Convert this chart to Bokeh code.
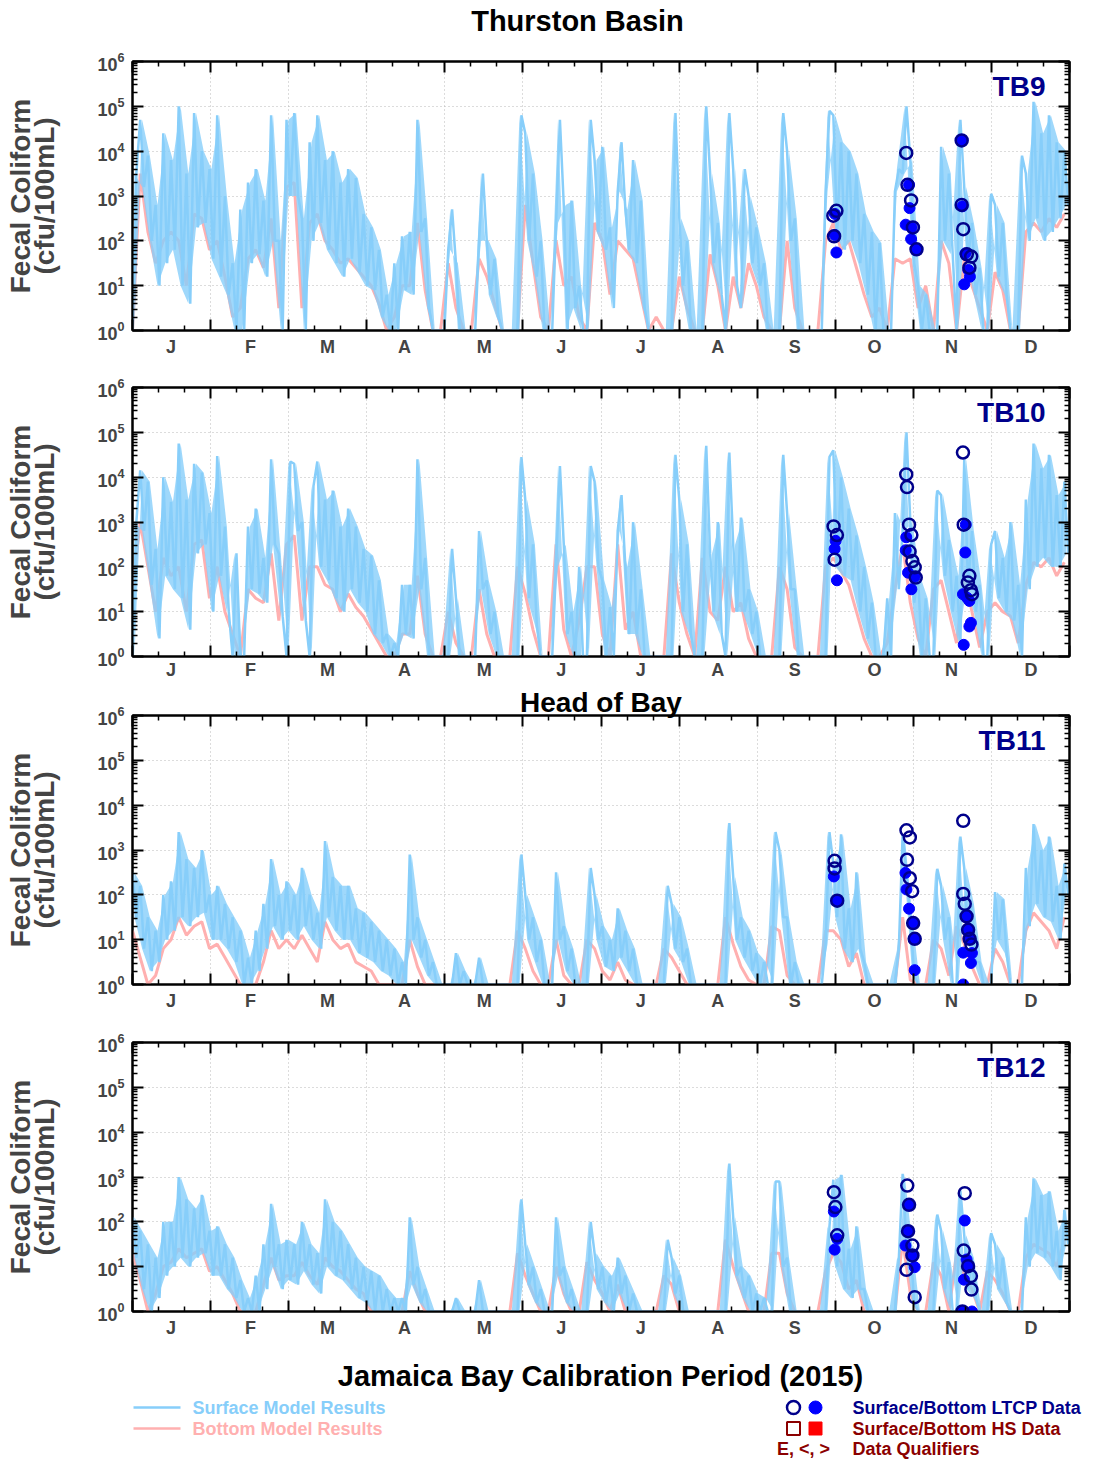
import numpy as np
from bokeh.plotting import figure
from bokeh.layouts import column
from bokeh.models import (Range1d, LogScale, LinearAxis, LogAxis, FixedTicker,
                          LogTickFormatter, BasicTickFormatter, Grid, Label)
from bokeh.embed import file_html
from bokeh.resources import INLINE
from bokeh.core.properties import value

# ---------------------------------------------------------------- data
# Model results as log10(cfu/100mL). Surface samples every 1.5 days
# (alternating tidal high / low readings), bottom samples every 3 days.
tb9_surface = [
    0.0, 3.5, 4.7, 3.2, 3.9, 2.0, 2.8, 1.0, 4.4, 1.5, 3.8, 1.8, 5.0, 1.0, 3.5, 0.6, 4.85, 2.3, 4.0, 2.4,
    3.6, 1.6, 4.8, 1.2, 3.0, 0.8, 1.5, 0.0, 2.7, 0.0, 3.3, 1.5, 3.6, 1.7, 2.9, 1.2, 4.8, 2.0, 2.0, 0.0,
    4.7, 3.0, 4.85, 3.0, 2.5, 0.0, 4.2, 2.0, 4.8, 2.4, 3.8, 1.8, 4.0, 1.5, 3.3, 1.2, 3.6, 1.6, 3.4, 1.3,
    2.6, 1.0, 2.3, 0.9, 1.8, 0.3, 0.8, 0.0, 1.5, 0.0, 2.1, 0.9, 2.2, 0.8, 4.7, 2.2, 2.5, 0.5, 0.0, 0.0,
    0.0, 0.0, 1.8, 2.7, 1.5, 0.0, 0.0, 0.0, 0.0, 0.0, 2.0, 3.5, 2.0, 0.8, 1.6, 0.3, 0.0, 0.0, 0.0, 0.0,
    0.0, 4.8, 4.4, 2.0, 3.5, 1.2, 2.0, 0.0, 0.0, 0.0, 2.4, 4.7, 2.8, 0.0, 2.9, 0.5, 1.0, 0.0, 0.0, 4.7,
    3.8, 2.2, 4.1, 1.8, 2.3, 0.5, 3.1, 4.2, 2.7, 1.8, 3.8, 1.5, 2.9, 0.5, 0.0, 0.0, 0.0, 0.0, 0.0, 0.0,
    0.0, 4.85, 2.5, 1.0, 2.0, 0.0, 0.0, 0.0, 0.0, 5.0, 3.5, 1.5, 2.4, 0.8, 0.0, 4.85, 3.6, 1.0, 0.5, 3.6,
    3.0, 1.5, 2.3, 1.0, 1.5, 0.0, 0.0, 0.0, 0.0, 4.85, 4.0, 2.0, 2.5, 0.0, 0.0, 0.0, 0.0, 0.0, 0.0, 0.0,
    3.1, 4.9, 4.8, 2.2, 4.2, 1.8, 4.0, 2.0, 3.5, 1.5, 2.6, 0.8, 2.2, 0.0, 1.95, 0.0, 0.0, 0.0, 3.1, 3.6,
    3.5, 5.0, 3.8, 1.5, 1.0, 0.0, 0.8, 0.0, 0.0, 0.0, 4.1, 2.0, 3.5, 1.7, 0.0, 4.7, 3.2, 1.6, 2.4, 0.8,
    1.4, 0.0, 0.0, 3.05, 2.8, 1.2, 2.4, 0.8, 0.0, 0.0, 0.0, 3.9, 3.5, 2.0, 5.1, 2.5, 4.4, 2.0, 4.8, 2.2,
    4.2, 2.5, 4.0, 2.8]
tb9_bottom = [
    0.0, 3.5, 2.2, 1.5, 2.0, 2.2, 2.0, 1.0, 2.6, 2.5, 1.8, 2.0, 1.2, 0.3, 0.5, 1.6, 1.8, 1.4, 2.5, 0.5,
    3.2, 3.3, 0.5, 2.4, 2.6, 2.0, 1.8, 1.5, 1.6, 1.4, 1.2, 1.0, 0.6, 0.0, 0.3, 1.0, 1.0, 2.4, 0.9, 0.0,
    0.0, 1.5, 0.5, 0.0, 0.0, 1.6, 1.2, 0.6, 0.0, 0.0, 0.0, 2.8, 1.5, 0.3, 0.0, 2.0, 1.0, 1.2, 0.3, 0.0,
    2.4, 2.0, 0.8, 2.0, 1.8, 1.6, 0.8, 0.0, 0.3, 0.0, 0.0, 1.2, 0.5, 0.0, 0.0, 1.7, 1.0, 0.0, 1.2, 0.5,
    1.5, 1.0, 0.3, 0.0, 0.0, 2.0, 0.5, 0.0, 0.0, 0.0, 2.0, 2.4, 1.8, 2.0, 1.4, 0.8, 0.3, 0.5, 0.0, 1.6,
    1.5, 1.6, 0.5, 1.0, 0.0, 2.0, 1.5, 0.0, 1.6, 1.0, 0.5, 0.0, 1.3, 0.9, 0.0, 0.0, 2.2, 2.4, 2.2, 2.5,
    2.3, 2.6]
tb9_obs_surface_day = [273.0, 274.2, 273.3, 301.4, 301.9, 303.3, 304.0, 305.4, 323.0, 323.0, 323.6, 325.0, 326.7, 326.0]
tb9_obs_surface_log = [2.56, 2.67, 2.10, 3.96, 3.25, 2.90, 2.30, 1.81, 4.24, 2.80, 2.26, 1.70, 1.65, 1.40]
tb9_obs_bottom_day = [273.6, 273.6, 274.2, 302.5, 302.7, 301.2, 303.5, 303.3, 305.4, 323.0, 323.3, 324.5, 325.6, 326.2, 324.0]
tb9_obs_bottom_log = [2.60, 2.13, 1.74, 3.25, 2.73, 2.36, 2.30, 2.04, 1.81, 4.24, 2.77, 1.72, 1.35, 1.20, 1.03]

tb10_surface = [
    0.0, 3.0, 4.15, 2.8, 3.9, 1.6, 2.4, 0.4, 4.0, 1.8, 3.45, 1.5, 4.75, 1.3, 3.5, 0.6, 4.3, 2.3, 4.1, 2.5,
    3.2, 1.0, 4.47, 1.8, 2.9, 1.0, 0.0, 2.3, 0.0, 0.0, 2.9, 1.5, 3.3, 1.4, 2.2, 1.2, 4.4, 2.5, 2.3, 0.9,
    0.0, 4.35, 4.3, 2.8, 3.0, 0.8, 0.0, 3.8, 4.35, 2.0, 3.5, 1.7, 3.7, 1.3, 2.9, 1.0, 3.3, 1.5, 2.9, 1.2,
    2.4, 1.0, 2.25, 0.5, 1.7, 0.3, 0.5, 0.0, 0.3, 0.0, 1.6, 0.5, 1.6, 0.4, 4.4, 1.5, 2.2, 0.0, 0.0, 0.0,
    0.0, 0.0, 0.0, 2.4, 1.3, 0.0, 0.0, 0.0, 0.0, 0.0, 2.8, 1.5, 1.7, 0.5, 1.0, 0.0, 0.0, 0.0, 0.0, 0.0,
    0.0, 4.45, 3.5, 1.3, 2.5, 0.7, 0.0, 0.0, 0.0, 0.0, 2.0, 4.25, 2.5, 0.5, 1.0, 0.0, 2.0, 0.0, 0.0, 4.25,
    3.9, 2.0, 1.7, 0.0, 1.1, 0.0, 2.8, 3.6, 2.0, 0.5, 3.0, 0.5, 1.5, 0.0, 0.0, 0.0, 0.0, 0.0, 0.0, 0.0,
    0.0, 4.5, 3.5, 1.0, 2.5, 0.5, 0.0, 0.0, 0.0, 4.7, 2.3, 1.0, 3.0, 0.5, 0.0, 4.55, 2.5, 1.0, 3.1, 1.0,
    1.5, 0.5, 1.0, 0.0, 0.0, 0.0, 0.0, 0.0, 0.0, 4.5, 3.2, 1.5, 1.5, 0.0, 0.0, 0.0, 0.0, 0.0, 0.0, 0.0,
    0.0, 4.45, 4.6, 2.0, 4.0, 1.8, 3.3, 1.7, 2.7, 1.0, 2.0, 0.4, 1.2, 0.0, 0.0, 0.0, 1.3, 0.0, 3.2, 1.5,
    2.8, 5.0, 3.0, 1.2, 1.8, 0.0, 1.3, 0.0, 0.0, 3.7, 3.6, 1.8, 2.6, 1.0, 1.8, 0.3, 4.4, 1.5, 2.8, 1.0,
    1.6, 0.0, 0.0, 2.5, 2.8, 1.3, 2.2, 1.0, 3.0, 0.8, 1.6, 0.0, 3.5, 1.5, 4.75, 2.0, 4.2, 2.2, 4.5, 2.0,
    3.6, 2.0, 3.9, 2.3]
tb10_bottom = [
    1.5, 3.0, 2.0, 1.0, 2.2, 1.8, 2.0, 1.0, 2.5, 2.6, 1.3, 2.0, 1.0, 0.5, 0.0, 1.5, 1.3, 1.2, 2.3, 0.8,
    2.5, 2.7, 0.8, 2.0, 2.0, 1.6, 1.5, 1.0, 1.4, 1.1, 0.9, 0.6, 0.3, 0.0, 0.0, 0.5, 0.5, 1.8, 0.5, 0.0,
    0.0, 1.0, 0.3, 0.0, 0.0, 1.5, 0.5, 0.0, 0.0, 0.0, 2.0, 1.4, 0.6, 0.0, 0.0, 2.5, 0.6, 0.0, 0.8, 2.0,
    2.0, 0.5, 0.0, 2.5, 0.6, 1.0, 0.0, 0.0, 0.0, 0.0, 2.3, 1.2, 0.5, 0.0, 2.2, 1.0, 0.8, 2.0, 1.0, 1.2,
    0.4, 0.0, 0.0, 0.0, 2.0, 1.5, 0.2, 0.0, 0.0, 0.0, 2.0, 2.2, 1.9, 1.6, 1.0, 0.4, 0.0, 0.0, 0.3, 1.5,
    2.5, 1.2, 0.4, 0.0, 1.5, 1.7, 1.0, 0.3, 1.8, 1.0, 0.2, 1.0, 1.2, 1.0, 0.9, 0.3, 1.6, 2.1, 2.0, 2.2,
    1.8, 2.1]
tb10_obs_surface_day = [273.1, 274.4, 273.5, 301.4, 301.7, 302.5, 303.4, 302.7, 303.8, 304.7, 305.1, 323.5, 323.8, 326.0, 325.4, 326.6, 327.0]
tb10_obs_surface_log = [2.90, 2.71, 2.16, 4.06, 3.78, 2.94, 2.71, 2.34, 2.13, 1.99, 1.76, 4.55, 2.94, 1.80, 1.65, 1.48, 1.39]
tb10_obs_bottom_day = [273.9, 273.5, 274.4, 301.4, 301.2, 302.1, 304.7, 303.4, 324.6, 324.4, 323.5, 325.1, 326.0, 326.6, 326.0, 323.8]
tb10_obs_bottom_log = [2.58, 2.40, 1.70, 2.66, 2.37, 1.87, 1.78, 1.50, 2.94, 2.32, 1.39, 1.31, 1.24, 0.75, 0.67, 0.26]

tb11_surface = [
    2.5, 1.5, 2.2, 0.8, 1.5, 0.3, 1.2, 0.5, 2.0, 1.0, 2.3, 1.2, 3.4, 1.5, 2.8, 1.3, 2.6, 1.5, 3.0, 1.6,
    2.0, 1.0, 2.2, 1.0, 1.8, 0.8, 1.5, 0.5, 1.2, 0.0, 0.6, 0.0, 1.2, 0.3, 1.8, 0.8, 2.8, 1.3, 2.0, 1.0,
    2.3, 1.2, 2.0, 1.0, 2.6, 1.3, 2.0, 1.0, 1.6, 0.8, 3.2, 1.5, 2.4, 1.2, 2.2, 1.0, 2.2, 1.0, 1.7, 0.7,
    1.6, 0.6, 1.4, 0.5, 1.2, 0.3, 1.0, 0.2, 0.8, 0.0, 0.5, 0.0, 2.9, 1.0, 1.5, 0.6, 1.0, 0.2, 0.5, 0.0,
    0.0, 0.0, 0.0, 0.0, 0.7, 0.0, 0.3, 0.0, 0.0, 0.0, 0.6, 0.0, 0.0, 0.0, 0.0, 0.0, 0.0, 0.0, 0.0, 0.0,
    0.0, 2.9, 2.0, 1.0, 1.5, 0.5, 1.0, 0.0, 0.0, 0.0, 2.5, 1.0, 1.3, 0.3, 0.8, 0.0, 0.0, 0.0, 0.0, 2.6,
    2.0, 1.0, 1.3, 0.4, 1.0, 0.3, 1.7, 0.6, 1.2, 0.3, 0.8, 0.0, 0.0, 0.0, 0.0, 0.0, 0.0, 0.0, 0.0, 2.2,
    1.8, 0.8, 1.5, 0.5, 0.8, 0.0, 0.0, 0.0, 0.0, 0.0, 0.0, 0.0, 0.0, 0.0, 0.0, 3.6, 2.4, 1.0, 1.5, 0.6,
    1.2, 0.3, 0.7, 0.0, 0.5, 0.0, 0.0, 3.4, 3.0, 1.5, 1.5, 0.0, 0.5, 0.0, 0.0, 0.0, 0.0, 0.0, 0.0, 0.0,
    0.9, 3.4, 2.7, 1.5, 3.35, 0.8, 1.7, 0.5, 2.5, 0.8, 0.5, 0.0, 0.0, 0.0, 0.0, 0.0, 0.0, 0.0, 0.0, 0.76,
    3.35, 2.5, 1.5, 0.2, 0.0, 0.0, 0.0, 0.0, 0.0, 2.58, 2.2, 1.0, 1.5, 0.0, 0.0, 3.3, 2.6, 1.0, 1.8, 0.5,
    0.5, 0.0, 0.0, 0.0, 2.06, 1.0, 1.9, 0.7, 0.0, 0.0, 0.0, 0.0, 2.6, 1.3, 3.58, 1.8, 3.0, 1.5, 3.3, 1.4,
    2.2, 1.0, 2.7, 2.0]
tb11_bottom = [
    1.2, 0.6, 0.0, 0.2, 0.8, 1.0, 1.5, 1.1, 1.3, 1.4, 0.8, 0.9, 0.6, 0.3, 0.0, 0.0, 0.0, 0.5, 1.2, 0.8,
    1.0, 0.8, 1.1, 0.8, 0.5, 1.4, 1.0, 0.8, 0.9, 0.5, 0.4, 0.3, 0.0, 0.0, 0.0, 0.0, 1.0, 0.4, 0.0, 0.0,
    0.0, 0.0, 0.0, 0.0, 0.0, 0.0, 0.0, 0.0, 0.0, 0.0, 1.2, 0.8, 0.3, 0.0, 0.0, 1.0, 0.2, 0.0, 0.0, 1.0,
    0.8, 0.3, 0.1, 0.5, 0.1, 0.0, 0.0, 0.0, 0.0, 0.8, 0.6, 0.3, 0.0, 0.0, 0.0, 0.0, 0.0, 1.5, 0.9, 0.4,
    0.1, 0.0, 0.0, 1.3, 1.2, 0.2, 0.0, 0.0, 0.0, 0.0, 1.2, 1.2, 1.0, 0.4, 0.7, 0.0, 0.0, 0.0, 0.0, 0.0,
    1.5, 0.1, 0.0, 0.0, 1.0, 0.8, 0.2, 1.3, 0.9, 0.4, 0.0, 0.0, 0.8, 0.5, 0.0, 0.0, 1.2, 1.6, 1.4, 1.2,
    0.8, 1.5]
tb11_obs_surface_day = [273.5, 273.5, 274.5, 301.5, 302.8, 301.7, 302.8, 303.7, 304.1, 304.7, 323.6, 323.6, 324.2, 324.9, 325.5, 326.1, 326.8]
tb11_obs_surface_log = [2.76, 2.59, 1.87, 3.44, 3.28, 2.78, 2.37, 2.08, 1.37, 1.02, 3.65, 2.02, 1.80, 1.52, 1.22, 1.02, 0.89]
tb11_obs_bottom_day = [273.2, 274.5, 301.1, 301.5, 302.5, 304.1, 304.7, 304.7, 324.9, 325.5, 326.1, 323.6, 327.0, 326.6, 323.6]
tb11_obs_bottom_log = [2.41, 1.87, 2.49, 2.12, 1.69, 1.37, 1.02, 0.32, 1.52, 1.22, 1.02, 0.71, 0.70, 0.48, 0.00]

tb12_surface = [
    2.1, 1.2, 1.8, 0.5, 1.5, 0.0, 1.2, 0.3, 2.0, 0.8, 2.0, 1.0, 3.0, 1.2, 2.5, 1.0, 2.3, 1.2, 2.6, 1.3,
    1.8, 0.8, 1.9, 0.8, 1.5, 0.5, 1.2, 0.3, 0.7, 0.0, 0.3, 0.0, 0.8, 0.0, 1.5, 0.5, 2.4, 1.0, 1.5, 0.5,
    1.6, 0.7, 1.5, 0.6, 2.0, 0.9, 1.5, 0.6, 1.3, 0.4, 2.5, 1.0, 2.0, 0.8, 1.8, 0.7, 1.5, 0.5, 1.2, 0.3,
    1.0, 0.2, 0.9, 0.0, 0.8, 0.0, 0.5, 0.0, 0.3, 0.0, 0.3, 0.0, 2.1, 0.6, 1.0, 0.2, 0.5, 0.0, 0.0, 0.0,
    0.0, 0.0, 0.0, 0.0, 0.3, 0.0, 0.0, 0.0, 0.0, 0.0, 0.7, 0.0, 0.0, 0.0, 0.0, 0.0, 0.0, 0.0, 0.0, 0.0,
    0.0, 2.5, 1.5, 0.6, 1.0, 0.2, 0.5, 0.0, 0.0, 0.0, 2.1, 0.8, 1.0, 0.2, 0.5, 0.0, 0.0, 0.0, 0.0, 2.0,
    1.3, 0.5, 1.0, 0.2, 0.8, 0.0, 1.2, 0.4, 0.8, 0.0, 0.4, 0.0, 0.0, 0.0, 0.0, 0.0, 0.0, 0.0, 0.0, 1.6,
    1.2, 0.4, 0.8, 0.0, 0.0, 0.0, 0.0, 0.0, 0.0, 0.0, 0.0, 0.0, 0.0, 0.0, 0.0, 3.3, 2.1, 0.8, 1.0, 0.3,
    0.8, 0.0, 0.4, 0.0, 0.3, 0.0, 0.0, 2.9, 2.9, 1.0, 1.2, 0.0, 0.0, 0.0, 0.0, 0.0, 0.0, 0.0, 0.0, 0.0,
    0.0, 1.9, 2.94, 1.0, 3.05, 0.5, 1.4, 0.3, 1.9, 0.5, 0.5, 0.0, 0.0, 0.0, 0.0, 0.0, 0.0, 0.0, 0.0, 1.16,
    3.07, 1.5, 1.5, 0.2, 0.0, 0.0, 0.0, 0.0, 0.0, 2.16, 1.8, 0.5, 1.1, 0.0, 0.0, 2.7, 1.7, 0.5, 1.2, 0.3,
    0.0, 0.0, 0.0, 1.75, 1.5, 0.5, 1.2, 0.2, 0.0, 0.0, 0.0, 0.0, 2.1, 1.0, 2.97, 1.3, 2.6, 1.2, 2.68, 1.0,
    1.8, 0.7, 2.27, 1.5]
tb12_bottom = [
    1.3, 0.7, 0.0, 0.4, 1.0, 1.1, 1.4, 1.2, 1.3, 1.4, 0.9, 1.0, 0.7, 0.4, 0.0, 0.0, 0.0, 0.6, 1.2, 0.7,
    0.8, 0.8, 1.1, 0.8, 0.6, 1.2, 1.0, 0.9, 0.7, 0.5, 0.4, 0.0, 0.0, 0.0, 0.0, 0.0, 0.9, 0.4, 0.0, 0.0,
    0.0, 0.0, 0.0, 0.0, 0.0, 0.0, 0.0, 0.0, 0.0, 0.0, 1.3, 0.8, 0.4, 0.0, 0.0, 1.0, 0.4, 0.0, 0.0, 1.1,
    0.7, 0.4, 0.0, 0.6, 0.0, 0.0, 0.0, 0.0, 0.0, 0.8, 0.6, 0.0, 0.0, 0.0, 0.0, 0.0, 0.0, 1.6, 1.0, 0.5,
    0.0, 0.0, 0.0, 1.3, 1.3, 0.4, 0.0, 0.0, 0.0, 0.0, 0.9, 1.3, 1.1, 0.5, 0.7, 0.0, 0.0, 0.0, 0.0, 0.0,
    1.6, 0.4, 0.0, 0.0, 1.1, 0.8, 0.0, 1.3, 0.8, 0.5, 0.0, 0.9, 0.7, 0.4, 0.0, 0.0, 1.2, 1.5, 1.4, 1.3,
    1.0, 1.6]
tb12_obs_surface_day = [273.2, 273.8, 274.5, 301.8, 302.5, 302.1, 303.8, 303.8, 301.5, 304.7, 324.2, 323.8, 325.5, 326.6, 326.8, 323.3]
tb12_obs_surface_log = [2.66, 2.33, 1.70, 2.81, 2.38, 1.79, 1.47, 1.25, 0.93, 0.32, 2.64, 1.36, 1.01, 0.79, 0.49, 0.00]
tb12_obs_bottom_day = [273.2, 274.5, 273.5, 302.5, 302.1, 301.1, 303.8, 304.7, 324.2, 324.9, 325.5, 323.9, 323.6, 327.0]
tb12_obs_bottom_log = [2.23, 1.62, 1.38, 2.38, 1.79, 1.47, 1.25, 0.99, 2.03, 1.16, 1.01, 0.71, 0.00, 0.00]

month_letters = ["J", "F", "M", "A", "M", "J", "J", "A", "S", "O", "N", "D"]
month_label_days = [15, 46, 76, 106, 137, 167, 198, 228, 258, 289, 319, 350]
decades = [1, 10, 100, 1000, 10000, 100000, 1000000]

# ---------------------------------------------------------------- style / layout
FONT = "Liberation Sans"
SURF_COLOR = "#87CEFA"
BOT_COLOR = "#FFB0B0"
NAVY = "#00008B"
BLUE = "#0000FF"
DARKRED = "#8B0000"
RED = "#FF0000"
GRID = "#b8b8b8"
SURF_STEP = 1.5
BOT_STEP = 3.0
LEFT = 132          # page x of the plot frames
FRAME_W = 937
RIGHT_PAD = 14

month_edges = [365.0 / 12 * k for k in range(13)]
x_minor = [365.0 / 36 * k for k in range(37) if k % 3]
y_minor = [m * 10.0 ** e for e in range(6) for m in range(2, 10)]


def tick_style(ax, labels=True):
    ax.axis_line_width = 2
    ax.axis_line_color = "black"
    ax.major_tick_in = 11
    ax.major_tick_out = 0
    ax.minor_tick_in = 5
    ax.minor_tick_out = 0
    ax.major_tick_line_width = 2
    ax.minor_tick_line_width = 1.5
    ax.major_label_text_font = FONT
    ax.major_label_text_font_style = "bold"
    if labels:
        ax.major_label_text_font_size = "18px"
    else:
        ax.major_label_text_font_size = "0px"
        ax.major_label_text_color = None
        ax.major_label_standoff = 0


def build_panel(name, surf, bot, s_day, s_log, b_day, b_log,
                top_border, bottom_border, month_standoff, top_title=None):
    p = figure(frame_width=FRAME_W, frame_height=269, x_axis_type=None, y_axis_type=None,
               x_range=Range1d(0, 365), y_range=Range1d(1, 1e6),
               min_border_left=LEFT, min_border_right=RIGHT_PAD,
               min_border_top=top_border, min_border_bottom=bottom_border,
               output_backend="svg", toolbar_location=None,
               outline_line_color="black", outline_line_width=2,
               background_fill_color="white", border_fill_color="white")
    p.y_scale = LogScale()

    p.add_layout(Grid(dimension=0, ticker=FixedTicker(ticks=month_edges[1:-1]),
                      grid_line_color=GRID, grid_line_dash="1 3", grid_line_width=1))
    p.add_layout(Grid(dimension=1, ticker=FixedTicker(ticks=decades[1:-1]),
                      grid_line_color=GRID, grid_line_dash="1 3", grid_line_width=1))

    surf = np.asarray(surf)
    sx = np.arange(len(surf)) * SURF_STEP
    bx = np.arange(len(bot)) * BOT_STEP
    pair_x = sx[0::2] + SURF_STEP / 2
    p.line(bx, np.power(10.0, bot), line_color=BOT_COLOR, line_width=3)
    p.varea(x=pair_x, y1=np.power(10.0, surf[0::2]), y2=np.power(10.0, surf[1::2]),
            fill_color=SURF_COLOR, fill_alpha=0.8)
    p.line(sx, np.power(10.0, surf), line_color=SURF_COLOR, line_width=2.5)
    p.scatter(b_day, np.power(10.0, b_log), marker="circle", size=11,
              fill_color=BLUE, line_color=BLUE)
    p.scatter(s_day, np.power(10.0, s_log), marker="circle", size=12,
              fill_color=None, line_color=NAVY, line_width=2.5)

    yt = FixedTicker(ticks=decades, minor_ticks=y_minor)
    left = LogAxis(ticker=yt, formatter=LogTickFormatter(),
                   axis_label="Fecal Coliform\n(cfu/100mL)")
    tick_style(left)
    left.major_label_standoff = 8
    left.axis_label_text_font = FONT
    left.axis_label_text_font_style = "bold"
    left.axis_label_text_font_size = "28px"
    left.axis_label_text_line_height = 0.8
    left.axis_label_standoff = 34
    p.add_layout(left, "left")

    right = LogAxis(ticker=yt, formatter=BasicTickFormatter())
    tick_style(right, labels=False)
    p.add_layout(right, "right")

    xt = FixedTicker(ticks=month_edges, minor_ticks=x_minor)
    top = LinearAxis(ticker=xt)
    tick_style(top, labels=False)
    if top_title:
        top.axis_label = top_title
        top.axis_label_text_font = FONT
        top.axis_label_text_font_style = "bold"
        top.axis_label_text_font_size = "28px"
        top.axis_label_text_color = "black"
        top.axis_label_standoff = -2
    p.add_layout(top, "above")
    bottom = LinearAxis(ticker=xt)
    tick_style(bottom, labels=False)
    p.add_layout(bottom, "below")

    months = LinearAxis(ticker=FixedTicker(ticks=month_label_days, minor_ticks=[]),
                        major_label_overrides=dict(zip(month_label_days, month_letters)))
    months.axis_line_color = None
    months.major_tick_in = 0
    months.major_tick_out = 0
    months.minor_tick_in = 0
    months.minor_tick_out = 0
    months.major_label_standoff = month_standoff
    months.major_label_text_font = FONT
    months.major_label_text_font_style = "bold"
    months.major_label_text_font_size = "18px"
    p.add_layout(months, "below")

    p.add_layout(Label(x=913, y=244, x_units="screen", y_units="screen", text=name,
                       text_align="right", text_baseline="middle", text_font=FONT,
                       text_font_style="bold", text_font_size="28px", text_color=NAVY))
    return p


# header with the upper group title (page coordinates)
head = figure(frame_width=FRAME_W, frame_height=38, min_border_left=LEFT,
              min_border_right=RIGHT_PAD, min_border_top=0, min_border_bottom=0,
              x_range=Range1d(LEFT, LEFT + FRAME_W), y_range=Range1d(38, 0),
              x_axis_type=None, y_axis_type=None, outline_line_color=None,
              toolbar_location=None, output_backend="svg")
head.text(x=[577], y=[20], text=["Thurston Basin"], text_font=value(FONT),
          text_font_size=value("29px"), text_font_style="bold", text_align="center",
          text_baseline="middle", text_color="black")

p1 = build_panel("TB9", tb9_surface, tb9_bottom, tb9_obs_surface_day, tb9_obs_surface_log,
                 tb9_obs_bottom_day, tb9_obs_bottom_log, 23, 30, 6)
p2 = build_panel("TB10", tb10_surface, tb10_bottom, tb10_obs_surface_day, tb10_obs_surface_log,
                 tb10_obs_bottom_day, tb10_obs_bottom_log, 27, 27, 3)
p3 = build_panel("TB11", tb11_surface, tb11_bottom, tb11_obs_surface_day, tb11_obs_surface_log,
                 tb11_obs_bottom_day, tb11_obs_bottom_log, 30, 30, 6, top_title="Head of Bay")
p4 = build_panel("TB12", tb12_surface, tb12_bottom, tb12_obs_surface_day, tb12_obs_surface_log,
                 tb12_obs_bottom_day, tb12_obs_bottom_log, 28, 30, 6)

# ---------------------------------------------------------------- x title and legend
LEG_TOP = 1341
LEG_H = 121
leg = figure(frame_width=951, frame_height=LEG_H, min_border_left=LEFT, min_border_right=0,
             min_border_top=0, min_border_bottom=0,
             x_range=Range1d(LEFT, LEFT + 951), y_range=Range1d(LEG_TOP + LEG_H, LEG_TOP),
             x_axis_type=None, y_axis_type=None, outline_line_color=None,
             toolbar_location=None, output_backend="svg")
leg.text(x=[600], y=[1375], text=["Jamaica Bay Calibration Period (2015)"],
         text_font=value(FONT), text_font_size=value("29px"), text_font_style="bold",
         text_align="center", text_baseline="middle", text_color="black")
leg.line([133, 180], [1407, 1407], line_color=SURF_COLOR, line_width=2.5)
leg.line([133, 180], [1428, 1428], line_color=BOT_COLOR, line_width=2.5)
leg.text(x=[192, 192], y=[1407, 1428], text=["Surface Model Results", "Bottom Model Results"],
         text_font=value(FONT), text_font_size=value("18px"), text_font_style="bold",
         text_align="left", text_baseline="middle", text_color=[SURF_COLOR, BOT_COLOR])
leg.scatter([793], [1407], marker="circle", size=13, fill_color=None, line_color=NAVY, line_width=2.5)
leg.scatter([815], [1407], marker="circle", size=13, fill_color=BLUE, line_color=BLUE)
leg.scatter([793], [1428], marker="square", size=13, fill_color=None, line_color=DARKRED, line_width=2)
leg.scatter([815], [1428], marker="square", size=13, fill_color=RED, line_color=RED)
leg.text(x=[852, 852, 852], y=[1407, 1428, 1448],
         text=["Surface/Bottom LTCP Data", "Surface/Bottom HS Data", "Data Qualifiers"],
         text_font=value(FONT), text_font_size=value("18px"), text_font_style="bold",
         text_align="left", text_baseline="middle", text_color=[NAVY, DARKRED, DARKRED])
leg.text(x=[803], y=[1448], text=["E, <, >"], text_font=value(FONT),
         text_font_size=value("18px"), text_font_style="bold", text_align="center",
         text_baseline="middle", text_color=DARKRED)

layout = column(head, p1, p2, p3, p4, leg, spacing=0)
open("out.html", "w").write(file_html(layout, INLINE, "Thurston Basin / Head of Bay"))
